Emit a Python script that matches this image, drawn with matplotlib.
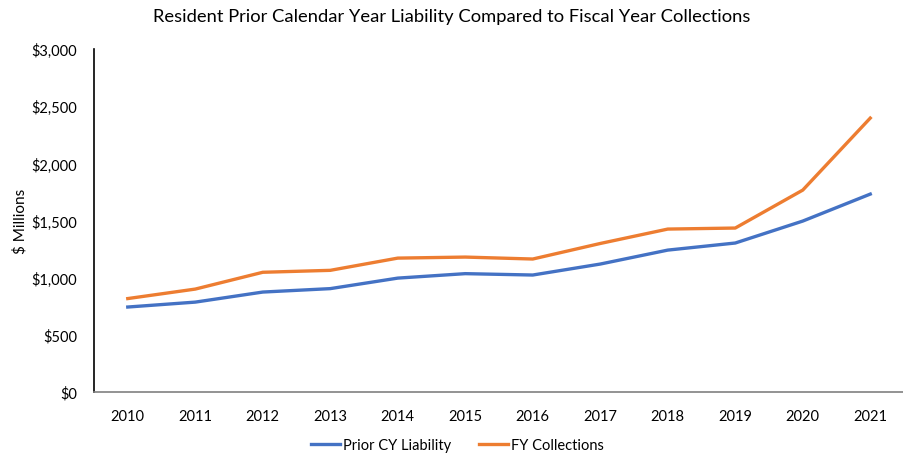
import matplotlib
matplotlib.use("Agg")
from matplotlib import pyplot as plt
from matplotlib.ticker import FuncFormatter

plt.rcParams['font.family'] = ['Lato', 'DejaVu Sans']

# Data ($ millions)
years = ['2010', '2011', '2012', '2013', '2014', '2015',
         '2016', '2017', '2018', '2019', '2020', '2021']
prior_cy = [744, 787, 875, 905, 997, 1036, 1024, 1120, 1242, 1304, 1496, 1732]
fy_coll = [818, 901, 1048, 1065, 1172, 1181, 1164, 1300, 1426, 1435, 1767, 2397]

fig = plt.figure(figsize=(9.04, 4.56), dpi=100)
ax = fig.add_axes([0.104, 0.138, 0.896, 0.752])

x = range(len(years))
ax.plot(x, prior_cy, color='#4472C4', lw=2.4, label='Prior CY Liability')
ax.plot(x, fy_coll, color='#ED7D31', lw=2.4, label='FY Collections')

ax.set_xlim(-0.5, len(years) - 0.5)
ax.set_ylim(0, 3000)
ax.set_yticks(range(0, 3001, 500))
ax.yaxis.set_major_formatter(FuncFormatter(lambda v, p: '${:,.0f}'.format(v)))
ax.set_xticks(list(x))
ax.set_xticklabels(years)
ax.tick_params(axis='both', length=0, labelsize=10.5, colors='black')
ax.tick_params(axis='x', pad=12)
ax.tick_params(axis='y', pad=12)

ax.spines['top'].set_visible(False)
ax.spines['right'].set_visible(False)
ax.spines['left'].set_color('black')
ax.spines['left'].set_linewidth(1.2)
ax.spines['bottom'].set_color('#808080')
ax.spines['bottom'].set_linewidth(1.2)

ax.set_ylabel('$ Millions', fontsize=11)
ax.yaxis.set_label_coords(-0.082, 0.5)
fig.text(0.5, 0.962, 'Resident Prior Calendar Year Liability Compared to Fiscal Year Collections',
         ha='center', va='center', fontsize=13.2)

fig.legend(loc='center', bbox_to_anchor=(0.506, 0.022), ncol=2, frameon=False,
           fontsize=10.5, handlelength=2.0, columnspacing=1.9, handletextpad=0.2)

plt.savefig('out.png', dpi=100)
